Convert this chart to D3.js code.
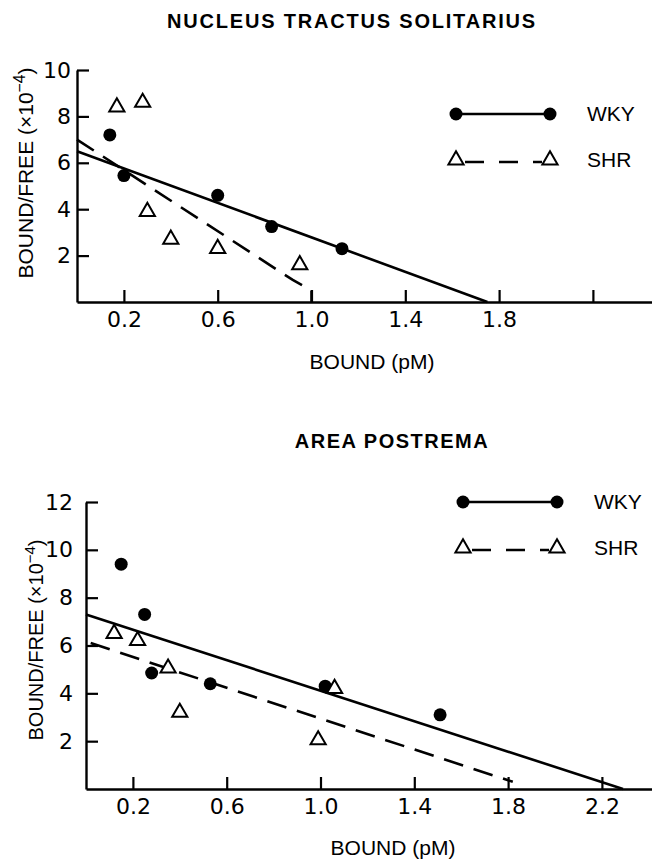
<!DOCTYPE html>
<html>
<head>
<meta charset="utf-8">
<script src="https://cdn.jsdelivr.net/npm/d3@7"></script>
<style>
  html, body { margin: 0; padding: 0; background: #fff; }
  svg { display: block; }
</style>
</head>
<body>
<div id="viz"></div>
<script>
const WIDTH = 652;
const HEIGHT = 860;

// shared x ticks (pM bound)
const xTicks = [0.2, 0.6, 1.0, 1.4, 1.8, 2.2];

// Nucleus tractus solitarius
const ntsXTickLabels = ['0.2', '0.6', '1.0', '1.4', '1.8', ''];
const ntsYTicks = [2, 4, 6, 8, 10];
const ntsWkyX = [0.14, 0.20, 0.60, 0.83, 1.13];
const ntsWkyY = [7.2, 5.45, 4.6, 3.25, 2.3];
const ntsShrX = [0.17, 0.28, 0.30, 0.40, 0.60, 0.95];
const ntsShrY = [8.4, 8.6, 3.9, 2.7, 2.3, 1.6];
const ntsWkyFit = [[0, 6.5], [1.75, 0]];
const ntsShrFit = [[0, 7.0], [0.92, 0.95], [1.0, 0.5], [1.0, 0]];

// Area postrema
const apXTickLabels = ['0.2', '0.6', '1.0', '1.4', '1.8', '2.2'];
const apYTicks = [2, 4, 6, 8, 10, 12];
const apWkyX = [0.15, 0.25, 0.28, 0.53, 1.02, 1.51];
const apWkyY = [9.4, 7.3, 4.85, 4.4, 4.3, 3.1];
const apShrX = [0.12, 0.22, 0.35, 0.40, 0.99, 1.06];
const apShrY = [6.5, 6.2, 5.05, 3.2, 2.05, 4.2];
const apWkyFit = [[0, 7.3], [2.29, 0]];
const apShrFit = [[0.02, 6.1], [1.82, 0.3]];

const LABEL_FONT = '"Liberation Sans", Arial, sans-serif';
const TICK_FONT = '"DejaVu Sans", sans-serif';
const DASH = '20,11';

const svg = d3.select('#viz')
  .append('svg')
    .attr('width', WIDTH)
    .attr('height', HEIGHT);

const triangle = d3.symbol().type(d3.symbolTriangle).size(100);

function drawPanel(p) {
  const g = svg.append('g').attr('class', 'panel');

  const x = d3.scaleLinear().domain([0, p.xMax]).range([p.x0, WIDTH + 1]);
  const y = d3.scaleLinear().domain([0, p.yMax]).range([p.yBottom, p.yTop]);

  const xAxis = d3.axisBottom(x)
    .tickValues(xTicks)
    .tickFormat((d, i) => p.xLabels[i])
    .tickSize(-12)
    .tickSizeOuter(0)
    .tickPadding(9);

  const yAxis = d3.axisLeft(y)
    .tickValues(p.yTicks)
    .tickSize(-12)
    .tickSizeOuter(0)
    .tickPadding(p.yPad);

  const gx = g.append('g')
    .attr('transform', `translate(0, ${p.yBottom})`)
    .call(xAxis);
  const gy = g.append('g')
    .attr('transform', `translate(${p.x0}, 0)`)
    .call(yAxis);

  [gx, gy].forEach(a => {
    a.select('.domain').attr('stroke', '#000').attr('stroke-width', 2.4);
    a.selectAll('.tick line').attr('stroke', '#000').attr('stroke-width', 2.2);
    a.selectAll('.tick text')
      .attr('fill', '#000')
      .attr('font-family', TICK_FONT)
      .attr('font-size', 22);
  });

  const line = d3.line().x(d => x(d[0])).y(d => y(d[1]));

  g.append('path')
    .attr('d', line(p.wkyFit))
    .attr('fill', 'none')
    .attr('stroke', '#000')
    .attr('stroke-width', 2.6);

  g.append('path')
    .attr('d', line(p.shrFit))
    .attr('fill', 'none')
    .attr('stroke', '#000')
    .attr('stroke-width', 2.6)
    .attr('stroke-dasharray', DASH);

  g.append('g').selectAll('circle')
    .data(p.wkyX)
    .join('circle')
      .attr('cx', d => x(d))
      .attr('cy', (d, i) => y(p.wkyY[i]))
      .attr('r', 6.5)
      .attr('fill', '#000');

  g.append('g').selectAll('path')
    .data(p.shrX)
    .join('path')
      .attr('d', triangle)
      .attr('transform', (d, i) => `translate(${x(d)}, ${y(p.shrY[i])})`)
      .attr('fill', '#fff')
      .attr('stroke', '#000')
      .attr('stroke-width', 2);

  // titles and axis labels
  g.append('text')
    .attr('x', p.titleX)
    .attr('y', p.titleY)
    .attr('text-anchor', 'middle')
    .attr('font-family', LABEL_FONT)
    .attr('font-weight', 'bold')
    .attr('font-size', 20)
    .attr('letter-spacing', p.titleSpacing)
    .text(p.title);

  g.append('text')
    .attr('x', p.xLabelX)
    .attr('y', p.xLabelY)
    .attr('text-anchor', 'middle')
    .attr('font-family', LABEL_FONT)
    .attr('font-size', 21)
    .text('BOUND (pM)');

  const yl = g.append('text')
    .attr('transform', `translate(${p.yLabelX}, ${p.yLabelY}) rotate(-90)`)
    .attr('text-anchor', 'middle')
    .attr('font-family', LABEL_FONT)
    .attr('font-size', p.yLabelSize);
  yl.append('tspan').text('BOUND/FREE (×10');
  yl.append('tspan').attr('dy', -8).attr('font-size', p.yLabelSize * 0.75).text('−4');
  yl.append('tspan').attr('dy', 8).text(')');

  // legend
  const lg = g.append('g').attr('transform', `translate(${p.legX}, ${p.legY})`);
  const L = 94;
  lg.append('line')
    .attr('x1', 0).attr('x2', L).attr('y1', 0).attr('y2', 0)
    .attr('stroke', '#000').attr('stroke-width', 2.6);
  lg.selectAll('circle').data([0, L]).join('circle')
    .attr('cx', d => d).attr('cy', 0).attr('r', 6.5).attr('fill', '#000');
  lg.append('text')
    .attr('x', 131).attr('y', 7)
    .attr('font-family', LABEL_FONT).attr('font-size', 21)
    .text('WKY');

  const row2 = p.legGap;
  lg.append('line')
    .attr('x1', 9).attr('x2', L - 8).attr('y1', row2 + 2).attr('y2', row2 + 2)
    .attr('stroke', '#000').attr('stroke-width', 2.6)
    .attr('stroke-dasharray', '19,15');
  lg.selectAll('path.legtri').data([0, L]).join('path')
    .attr('class', 'legtri')
    .attr('d', triangle)
    .attr('transform', d => `translate(${d}, ${row2})`)
    .attr('fill', '#fff')
    .attr('stroke', '#000')
    .attr('stroke-width', 2);
  lg.append('text')
    .attr('x', 131).attr('y', row2 + 7)
    .attr('font-family', LABEL_FONT).attr('font-size', 21)
    .text('SHR');
}

drawPanel({
  title: 'NUCLEUS TRACTUS SOLITARIUS', titleX: 352, titleY: 28, titleSpacing: 1.8,
  xLabelX: 372, xLabelY: 369,
  yLabelX: 33, yLabelY: 173, yLabelSize: 21,
  x0: 77, xMax: (WIDTH + 1 - 77) / 234.5,
  yBottom: 302, yTop: 70, yMax: 10, yTicks: ntsYTicks, yPad: 6,
  xLabels: ntsXTickLabels,
  wkyX: ntsWkyX, wkyY: ntsWkyY, shrX: ntsShrX, shrY: ntsShrY,
  wkyFit: ntsWkyFit, shrFit: ntsShrFit,
  legX: 456, legY: 114, legGap: 46
});

drawPanel({
  title: 'AREA POSTREMA', titleX: 392, titleY: 448, titleSpacing: 1.5,
  xLabelX: 393, xLabelY: 855,
  yLabelX: 43, yLabelY: 640, yLabelSize: 20,
  x0: 86, xMax: (WIDTH + 1 - 86) / 234.5,
  yBottom: 789, yTop: 502, yMax: 12, yTicks: apYTicks, yPad: 13,
  xLabels: apXTickLabels,
  wkyX: apWkyX, wkyY: apWkyY, shrX: apShrX, shrY: apShrY,
  wkyFit: apWkyFit, shrFit: apShrFit,
  legX: 463, legY: 502, legGap: 46
});
</script>
</body>
</html>
